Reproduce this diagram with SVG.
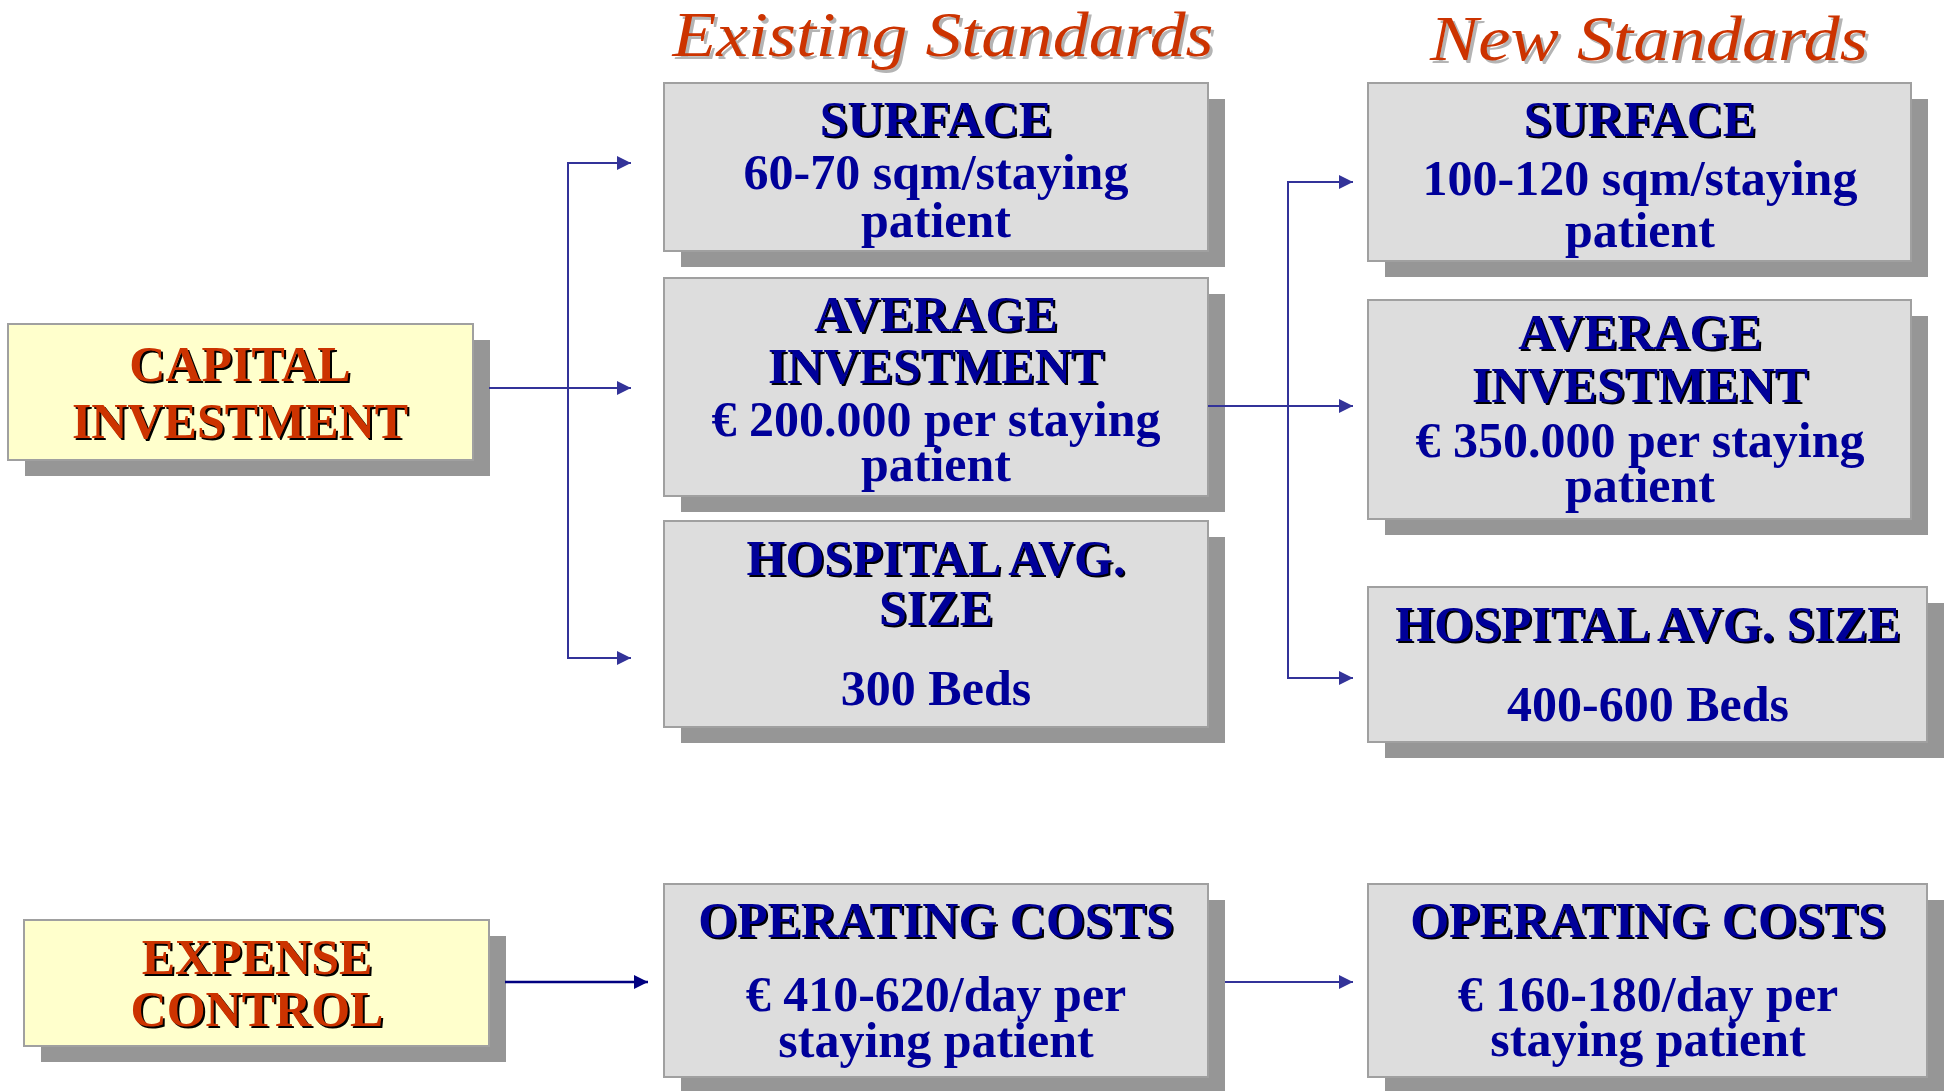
<svg xmlns="http://www.w3.org/2000/svg" width="1946" height="1091" viewBox="0 0 1946 1091">
<style>
.box{fill:#DDDDDD;stroke:#A0A0A0;stroke-width:2}
.ybox{fill:#FFFFCC;stroke:#A0A0A0;stroke-width:2}
.sh{fill:#969696}
.t{font-family:"Liberation Serif","Times New Roman",serif;font-weight:bold;font-size:50px;text-anchor:middle}
.blue{fill:#000099}
.red{fill:#CC3300}
.ts{fill:#000000}
.hdr{font-family:"Liberation Serif","Times New Roman",serif;font-style:italic;font-size:64px;text-anchor:middle}
.hs{fill:#B4B4B4}
.conn{stroke:#333399;stroke-width:2;fill:none}
.conn2{stroke:#000080;stroke-width:2.5;fill:none}
</style>
<defs>
<marker id="ah" viewBox="0 0 14 14" refX="14" refY="7" markerWidth="14" markerHeight="14" markerUnits="userSpaceOnUse" orient="auto">
<path d="M0,0 L14,7 L0,14 z" fill="#333399"/>
</marker>
<marker id="ah2" viewBox="0 0 14 14" refX="14" refY="7" markerWidth="14" markerHeight="14" markerUnits="userSpaceOnUse" orient="auto">
<path d="M0,0 L14,7 L0,14 z" fill="#000080"/>
</marker>
</defs>
<rect width="1946" height="1091" fill="#FFFFFF"/>

<g id="header-existing">
<text class="hdr hs" x="946" y="59" textLength="541" lengthAdjust="spacingAndGlyphs">Existing Standards</text>
<text class="hdr red" x="943" y="56" textLength="541" lengthAdjust="spacingAndGlyphs">Existing Standards</text>
</g>
<g id="header-new">
<text class="hdr hs" x="1652" y="63" textLength="438" lengthAdjust="spacingAndGlyphs">New Standards</text>
<text class="hdr red" x="1649" y="60" textLength="438" lengthAdjust="spacingAndGlyphs">New Standards</text>
</g>

<g id="capital-investment">
<rect class="sh" x="25" y="340" width="465" height="136"/>
<rect class="ybox" x="8" y="324" width="465" height="136"/>
<text class="t ts" x="242" y="383">CAPITAL</text>
<text class="t red" x="240" y="381">CAPITAL</text>
<text class="t ts" x="242" y="440">INVESTMENT</text>
<text class="t red" x="240" y="438">INVESTMENT</text>
</g>

<g id="expense-control">
<rect class="sh" x="41" y="936" width="465" height="126"/>
<rect class="ybox" x="24" y="920" width="465" height="126"/>
<text class="t ts" x="259" y="976">EXPENSE</text>
<text class="t red" x="257" y="974">EXPENSE</text>
<text class="t ts" x="259" y="1028">CONTROL</text>
<text class="t red" x="257" y="1026">CONTROL</text>
</g>

<g id="existing-surface">
<rect class="sh" x="681" y="99" width="544" height="168"/>
<rect class="box" x="664" y="83" width="544" height="168"/>
<text class="t ts" x="938" y="138">SURFACE</text>
<text class="t blue" x="936" y="136">SURFACE</text>
<text class="t blue" x="936" y="189">60-70 sqm/staying</text>
<text class="t blue" x="936" y="237">patient</text>
</g>

<g id="existing-avg-investment">
<rect class="sh" x="681" y="294" width="544" height="218"/>
<rect class="box" x="664" y="278" width="544" height="218"/>
<text class="t ts" x="938" y="333">AVERAGE</text>
<text class="t blue" x="936" y="331">AVERAGE</text>
<text class="t ts" x="938" y="385">INVESTMENT</text>
<text class="t blue" x="936" y="383">INVESTMENT</text>
<text class="t blue" x="936" y="436">€ 200.000 per staying</text>
<text class="t blue" x="936" y="481">patient</text>
</g>

<g id="existing-hospital-size">
<rect class="sh" x="681" y="537" width="544" height="206"/>
<rect class="box" x="664" y="521" width="544" height="206"/>
<text class="t ts" x="938" y="577">HOSPITAL AVG.</text>
<text class="t blue" x="936" y="575">HOSPITAL AVG.</text>
<text class="t ts" x="938" y="627">SIZE</text>
<text class="t blue" x="936" y="625">SIZE</text>
<text class="t blue" x="936" y="705">300 Beds</text>
</g>

<g id="existing-operating-costs">
<rect class="sh" x="681" y="900" width="544" height="193"/>
<rect class="box" x="664" y="884" width="544" height="193"/>
<text class="t ts" x="938" y="939">OPERATING COSTS</text>
<text class="t blue" x="936" y="937">OPERATING COSTS</text>
<text class="t blue" x="936" y="1011">€ 410-620/day per</text>
<text class="t blue" x="936" y="1057">staying patient</text>
</g>

<g id="new-surface">
<rect class="sh" x="1385" y="99" width="543" height="178"/>
<rect class="box" x="1368" y="83" width="543" height="178"/>
<text class="t ts" x="1642" y="138">SURFACE</text>
<text class="t blue" x="1640" y="136">SURFACE</text>
<text class="t blue" x="1640" y="195">100-120 sqm/staying</text>
<text class="t blue" x="1640" y="247">patient</text>
</g>

<g id="new-avg-investment">
<rect class="sh" x="1385" y="316" width="543" height="219"/>
<rect class="box" x="1368" y="300" width="543" height="219"/>
<text class="t ts" x="1642" y="351">AVERAGE</text>
<text class="t blue" x="1640" y="349">AVERAGE</text>
<text class="t ts" x="1642" y="404">INVESTMENT</text>
<text class="t blue" x="1640" y="402">INVESTMENT</text>
<text class="t blue" x="1640" y="457">€ 350.000 per staying</text>
<text class="t blue" x="1640" y="502">patient</text>
</g>

<g id="new-hospital-size">
<rect class="sh" x="1385" y="603" width="559" height="155"/>
<rect class="box" x="1368" y="587" width="559" height="155"/>
<text class="t ts" x="1650" y="643">HOSPITAL AVG. SIZE</text>
<text class="t blue" x="1648" y="641">HOSPITAL AVG. SIZE</text>
<text class="t blue" x="1648" y="721">400-600 Beds</text>
</g>

<g id="new-operating-costs">
<rect class="sh" x="1385" y="900" width="559" height="193"/>
<rect class="box" x="1368" y="884" width="559" height="193"/>
<text class="t ts" x="1650" y="939">OPERATING COSTS</text>
<text class="t blue" x="1648" y="937">OPERATING COSTS</text>
<text class="t blue" x="1648" y="1011">€ 160-180/day per</text>
<text class="t blue" x="1648" y="1056">staying patient</text>
</g>

<g id="connectors">
<path class="conn" d="M489,388 H631" marker-end="url(#ah)"/>
<path class="conn" d="M568,163 V658"/>
<path class="conn" d="M567,163 H631" marker-end="url(#ah)"/>
<path class="conn" d="M567,658 H631" marker-end="url(#ah)"/>
<path class="conn" d="M1208,406 H1353" marker-end="url(#ah)"/>
<path class="conn" d="M1288,182 V678"/>
<path class="conn" d="M1287,182 H1353" marker-end="url(#ah)"/>
<path class="conn" d="M1287,678 H1353" marker-end="url(#ah)"/>
<path class="conn2" d="M505,982 H648" marker-end="url(#ah2)"/>
<path class="conn" d="M1225,982 H1353" marker-end="url(#ah)"/>
</g>
</svg>
